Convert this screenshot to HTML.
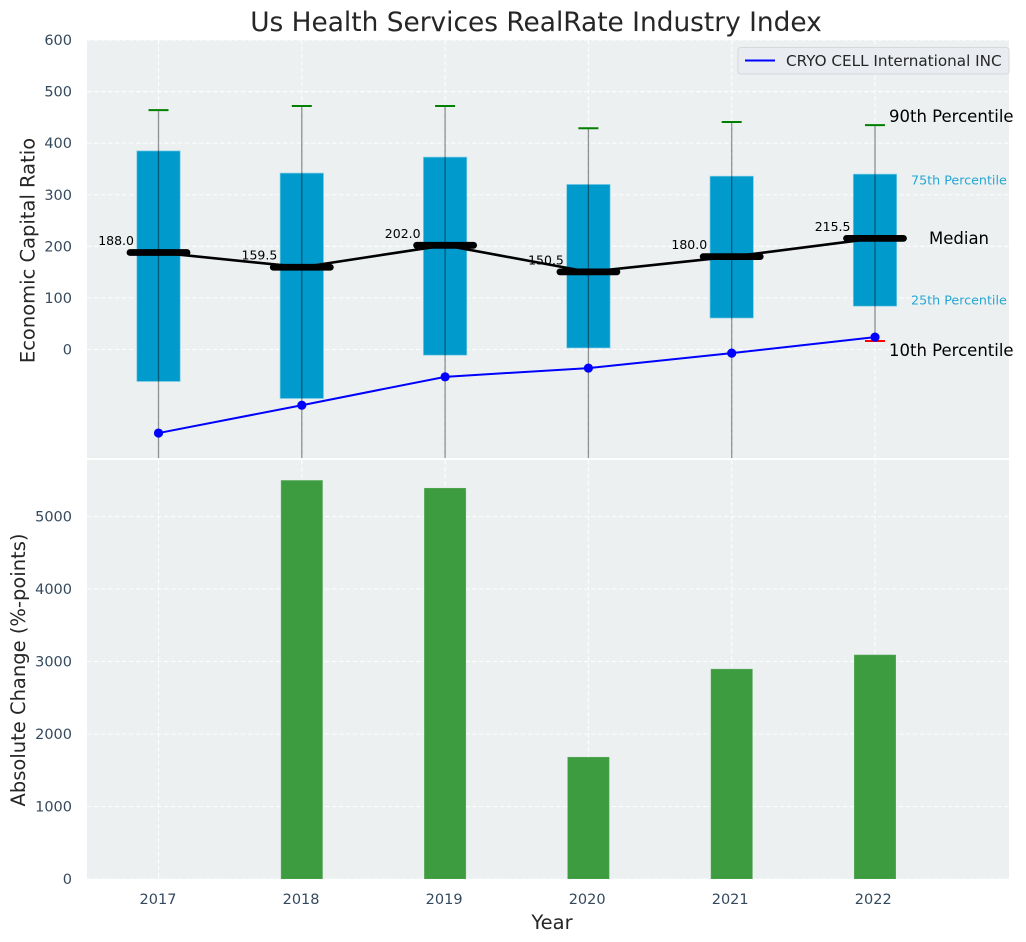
<!DOCTYPE html>
<html lang="en">
<head>
<meta charset="utf-8">
<title>Us Health Services RealRate Industry Index</title>
<style>
html,body{margin:0;padding:0;background:#fff;width:1026px;height:942px;overflow:hidden}
svg{display:block;font-family:"DejaVu Sans","Liberation Sans",sans-serif}
</style>
</head>
<body>
<svg id="chart" xmlns="http://www.w3.org/2000/svg" width="1026" height="942" viewBox="0 0 1026 942">
<defs>
<clipPath id="clip-top"><rect x="87" y="40" width="922" height="418"/></clipPath>
<clipPath id="clip-bottom"><rect x="87" y="460" width="922" height="419"/></clipPath>
</defs>
<rect x="87" y="40" width="922" height="418" fill="#ecf0f1"/>
<rect x="87" y="460" width="922" height="419" fill="#ecf0f1"/>
<g id="grid"></g>
<g id="bars" clip-path="url(#clip-bottom)"></g>
<g id="boxes" clip-path="url(#clip-top)"></g>
<g id="labels"></g>
<text x="536" y="31" text-anchor="middle" font-size="26.4" fill="#262626">Us Health Services RealRate Industry Index</text>
<text transform="translate(34.5,250.5) rotate(-90)" text-anchor="middle" font-size="19.5" fill="#262626">Economic Capital Ratio</text>
<text transform="translate(25,670) rotate(-90)" text-anchor="middle" font-size="19.5" fill="#262626">Absolute Change (%-points)</text>
<text x="552" y="929" text-anchor="middle" font-size="19.5" fill="#262626">Year</text>
<g>
<text x="889" y="122" font-size="16.5" fill="#000">90th Percentile</text>
<text x="911" y="184.5" font-size="12.7" fill="#009ACD" fill-opacity="0.85">75th Percentile</text>
<text x="929" y="244" font-size="16.5" fill="#000">Median</text>
<text x="911" y="304.5" font-size="12.7" fill="#009ACD" fill-opacity="0.85">25th Percentile</text>
<text x="889" y="356" font-size="16.5" fill="#000">10th Percentile</text>
</g>
<g>
<rect x="738" y="47.5" width="271" height="26.5" rx="3" fill="#e9ecf0" stroke="#d6d8db" stroke-width="1"/>
<line x1="745" y1="60.5" x2="775" y2="60.5" stroke="#0000ff" stroke-width="2"/>
<text x="786" y="66" font-size="15.2" fill="#262626">CRYO CELL International INC</text>
</g>
</svg>
<script>
const years = [2017, 2018, 2019, 2020, 2021, 2022];
const p90 = [464, 472, 472, 429, 441, 435];
const p75 = [385, 342, 373, 320, 336, 340];
const median = [188.0, 159.5, 202.0, 150.5, 180.0, 215.5];
const p25 = [-62, -95, -11, 3, 61, 84];
const p10 = [-300, -290, -280, -270, -260, 16.5];
const company = [-162, -108, -53, -36, -7, 24];
const absChange = [0, 5497, 5390, 1680, 2895, 3090];
const topTicks = [0, 100, 200, 300, 400, 500, 600];
const bottomTicks = [0, 1000, 2000, 3000, 4000, 5000];

const NS = 'http://www.w3.org/2000/svg';
const xScale = function (year) { return 158.5 + (year - 2017) * 143.3; };
const yTop = function (v) { return 349.5 - v * 0.5158; };
const yBottom = function (v) { return 879 - v * 0.0725; };

function make(parent, tag, attrs, text) {
  const el = document.createElementNS(NS, tag);
  for (const k in attrs) el.setAttribute(k, attrs[k]);
  if (text !== undefined) el.textContent = text;
  parent.appendChild(el);
  return el;
}

const grid = document.getElementById('grid');
const labels = document.getElementById('labels');
const bars = document.getElementById('bars');
const boxes = document.getElementById('boxes');
const gridStyle = { stroke: '#ffffff', 'stroke-width': 1.1, 'stroke-dasharray': '4.5 2.5', 'stroke-opacity': 0.9 };

topTicks.forEach(function (t) {
  const y = yTop(t);
  const line = make(grid, 'line', Object.assign({ x1: 87, x2: 1009, y1: y, y2: y }, gridStyle));
  
  
  const label = make(labels, 'text', { x: 72, y: y + 5, 'text-anchor': 'end', 'font-size': 14.5, fill: '#34495e' }, String(t));
  
  
});

bottomTicks.forEach(function (t) {
  const y = yBottom(t);
  const line = make(grid, 'line', Object.assign({ x1: 87, x2: 1009, y1: y, y2: y }, gridStyle));
  
  
  const label = make(labels, 'text', { x: 72, y: y + 5, 'text-anchor': 'end', 'font-size': 14.5, fill: '#34495e' }, String(t));
  
  
});

years.forEach(function (yr, i) {
  const x = xScale(yr);
  const g1 = make(grid, 'line', Object.assign({ x1: x, x2: x, y1: 40, y2: 458 }, gridStyle));
  
  
  const g2 = make(grid, 'line', Object.assign({ x1: x, x2: x, y1: 460, y2: 879 }, gridStyle));
  
  
  const tick = make(labels, 'text', { x: x - 0.5 - i * 0.25, y: 904, 'text-anchor': 'middle', 'font-size': 14.5, fill: '#34495e' }, String(yr));
  
  

  if (absChange[i] > 0) {
    const bar = make(bars, 'rect', { x: x - 20.7, y: yBottom(absChange[i]), width: 41.4, height: 879 - yBottom(absChange[i]), fill: '#3c9c3f', stroke: '#5cab5c', 'stroke-width': 0.5 });
    
    
  }

  const box = make(boxes, 'rect', { x: x - 21.7, y: yTop(p75[i]), width: 43.4, height: yTop(p25[i]) - yTop(p75[i]), fill: '#009ACD', stroke: '#7fcde6', 'stroke-width': 0.7 });
  
  
  const whisker = make(boxes, 'line', { x1: x, x2: x, y1: yTop(p90[i]), y2: yTop(p10[i]), stroke: '#000', 'stroke-opacity': 0.42, 'stroke-width': 1.3 });
  
  
  const capHigh = make(boxes, 'line', { x1: x - 10, x2: x + 10, y1: yTop(p90[i]), y2: yTop(p90[i]), stroke: '#008000', 'stroke-width': 2 });
  
  
  const capLow = make(boxes, 'line', { x1: x - 10, x2: x + 10, y1: yTop(p10[i]), y2: yTop(p10[i]), stroke: '#ff0000', 'stroke-width': 2 });
  
  
});

const medianPath = make(boxes, 'polyline', { points: years.map(function (yr, i) { return xScale(yr) + ',' + yTop(median[i]); }).join(' '), fill: 'none', stroke: '#000', 'stroke-width': 2.6 });



const companyPath = make(boxes, 'polyline', { points: years.map(function (yr, i) { return xScale(yr) + ',' + yTop(company[i]); }).join(' '), fill: 'none', stroke: '#0000ff', 'stroke-width': 2 });



years.forEach(function (yr, i) {
  const x = xScale(yr);
  const m = yTop(median[i]);
  const seg = make(boxes, 'line', { x1: x - 28.5, x2: x + 28.5, y1: m, y2: m, stroke: '#000', 'stroke-width': 6.8, 'stroke-linecap': 'round' });
  
  
  const pt = make(boxes, 'circle', { cx: x, cy: yTop(company[i]), r: 4.6, fill: '#0000ff' });
  
  
  const val = make(labels, 'text', { x: x - 24.5, y: m - 7.5, 'text-anchor': 'end', 'font-size': 12.5, fill: '#000' }, median[i].toFixed(1));
  
  
});
</script>
</body>
</html>
